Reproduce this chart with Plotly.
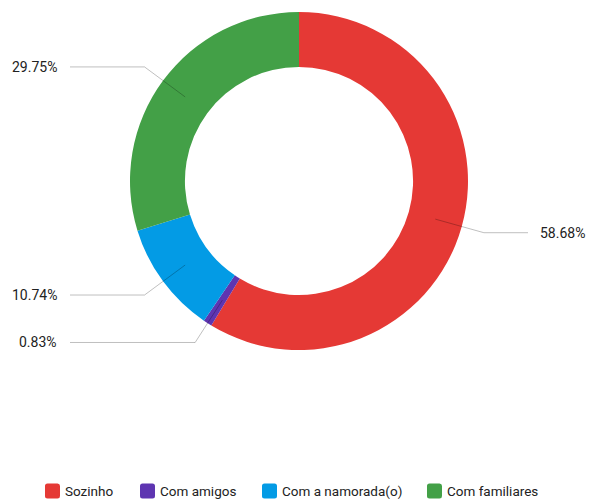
import math
import plotly.graph_objects as go

categories = ["Sozinho", "Com amigos", "Com a namorada(o)", "Com familiares"]
shares = [58.68, 0.83, 10.74, 29.75]
colors = ["#e53935", "#5e35b1", "#039be5", "#43a047"]

W, H = 592, 500
CX, CY = 299, 181          # pie centre, px
R_OUT, HOLE = 169, 0.675   # outer radius, hole fraction
R_MID = R_OUT * (1 + HOLE) / 2
R_ELBOW = 192
LEFT_END, RIGHT_END = 70, 528

# legend layout (px): left edge of each swatch, swatch size, row centre
LEGEND_X = [45, 140, 262, 427]
SWATCH = 15
LEGEND_Y = 491

fig = go.Figure(go.Pie(
    labels=categories,
    values=shares,
    hole=HOLE,
    sort=False,
    direction="clockwise",
    rotation=0,
    marker=dict(colors=colors, line=dict(width=0)),
    textinfo="none",
    hoverinfo="label+percent",
    showlegend=False,
    domain=dict(x=[(CX - R_OUT) / W, (CX + R_OUT) / W],
                y=[(H - CY - R_OUT) / H, (H - CY + R_OUT) / H]),
))


def px(x, y):
    return x / W, 1 - y / H


# leader lines and percentage labels
total = sum(shares)
cum = 0.0
for share in shares:
    mid = (cum + share / 2) / total * 2 * math.pi
    cum += share
    s, c = math.sin(mid), math.cos(mid)
    x0, y0 = CX + R_MID * s, CY - R_MID * c
    x1, y1 = CX + R_ELBOW * s, CY - R_ELBOW * c
    x2 = RIGHT_END if s > 0 else LEFT_END
    pts = [px(x0, y0), px(x1, y1), px(x2, y1)]
    path = "M {} {} L {} {} L {} {}".format(*[v for p in pts for v in p])
    fig.add_shape(type="path", path=path, xref="paper", yref="paper",
                  line=dict(color="rgba(0,0,0,0.25)", width=1))
    ax, ay = px(x2 + (10 if s > 0 else -11), y1)
    fig.add_annotation(x=ax, y=ay, xref="paper", yref="paper",
                       text=f"{share / total * 100:.2f}%", showarrow=False,
                       xanchor="left" if s > 0 else "right", yanchor="middle",
                       font=dict(family="Roboto", size=14, color="#222222"))


def rounded_rect(x, y, w, h, r):
    pts = [
        ("M", x + r, y), ("L", x + w - r, y), ("Q", x + w, y, x + w, y + r),
        ("L", x + w, y + h - r), ("Q", x + w, y + h, x + w - r, y + h),
        ("L", x + r, y + h), ("Q", x, y + h, x, y + h - r),
        ("L", x, y + r), ("Q", x, y, x + r, y),
    ]
    parts = []
    for p in pts:
        cmd, coords = p[0], p[1:]
        conv = []
        for i in range(0, len(coords), 2):
            conv.extend(px(coords[i], coords[i + 1]))
        parts.append(cmd + " " + " ".join(f"{v:.5f}" for v in conv))
    return " ".join(parts) + " Z"


# legend row
for name, col, lx in zip(categories, colors, LEGEND_X):
    fig.add_shape(type="path", xref="paper", yref="paper",
                  path=rounded_rect(lx, LEGEND_Y - SWATCH / 2, SWATCH, SWATCH, 2.5),
                  fillcolor=col, line=dict(width=0))
    tx, ty = px(lx + SWATCH + 3, LEGEND_Y)
    fig.add_annotation(x=tx, y=ty, xref="paper", yref="paper", text=name,
                       showarrow=False, xanchor="left", yanchor="middle",
                       font=dict(family="Roboto", size=13.5, color="#222222"))

fig.update_layout(
    width=W, height=H,
    margin=dict(l=0, r=0, t=0, b=0),
    paper_bgcolor="white", plot_bgcolor="white",
    font=dict(family="Roboto", size=13, color="#222222"),
    showlegend=False,
)

fig.write_html("out.html")
